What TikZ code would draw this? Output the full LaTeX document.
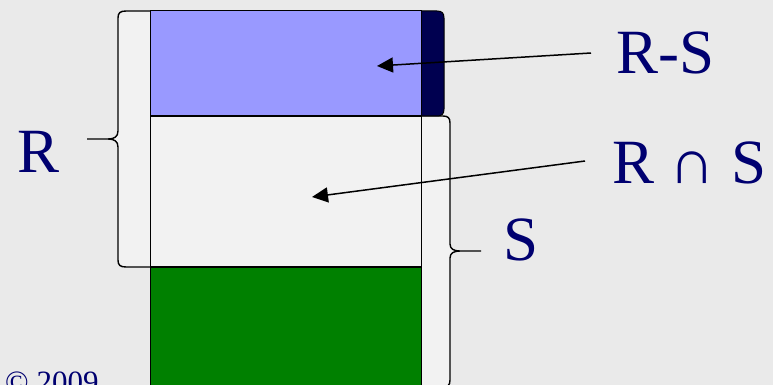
\documentclass[tikz,border=0pt]{standalone}
\usepackage{fontspec}
\setmainfont{Liberation Serif}
\newfontfamily\labelface{Liberation Serif}
\usetikzlibrary{arrows.meta}
\definecolor{bg}{HTML}{EAEAEA}
\definecolor{pale}{HTML}{F2F2F2}
\definecolor{lilac}{HTML}{9999FF}
\definecolor{deepnavy}{HTML}{000050}
\definecolor{inknavy}{HTML}{000070}
\definecolor{leaf}{HTML}{008000}
\begin{document}
\begin{tikzpicture}[x=1pt,y=-1pt,
  labeltext/.style={text=inknavy, font=\labelface\fontsize{63}{63}\selectfont, inner sep=0pt, anchor=base west},
  braceline/.style={draw=black, line width=1.4pt},
  pointer/.style={draw=black, line width=1.5pt, -{Triangle[length=16pt,width=15pt]}}]
\fill[bg] (0,0) rectangle (773,385);
\useasboundingbox (0,0) rectangle (773,385);

% brace for R, filled pale
\filldraw[fill=pale, braceline] (150,11) -- (126,11)
  .. controls (120,11) and (118,13) .. (118,18) -- (118,131)
  .. controls (118,137) and (114,139) .. (108,139) -- (87,139) -- (108,139)
  .. controls (114,139) and (118,141) .. (118,147) -- (118,260)
  .. controls (118,265) and (120,267) .. (126,267) -- (150,267);

% brace for S, filled pale
\filldraw[fill=pale, braceline] (421,116) -- (443,116)
  .. controls (448,116) and (450,118) .. (450,123) -- (450,244)
  .. controls (450,249) and (454,251) .. (460,251) -- (481,251) -- (460,251)
  .. controls (454,251) and (450,253) .. (450,258) -- (450,380)
  .. controls (450,385) and (448,387) .. (443,387) -- (421,387);

% dark strip beside R-S
\filldraw[fill=deepnavy, draw=black, line width=1pt] (421,11) -- (437,11)
  .. controls (442,11) and (444,13) .. (444,18) -- (444,109)
  .. controls (444,114) and (442,116) .. (437,116) -- (421,116) -- cycle;

% stacked regions
\draw[fill=lilac, line width=1pt] (150,11) rectangle (421,116);
\draw[fill=pale, line width=1pt] (150,116) rectangle (421,267);
\draw[fill=leaf, line width=1pt] (150,267) rectangle (421,392);
\draw[line width=2pt] (150,116) -- (421,116);
\draw[line width=2pt] (150,267) -- (421,267);

% labels
\node[labeltext] (lblR) at (17,172) {R};
\node[labeltext] (lblRS) at (616,74) {R-S};
\node[labeltext] (lblRiS) at (612,183) {R ∩ S};
\node[labeltext] (lblS) at (503,260) {S};
\node[text=inknavy, font=\labelface\fontsize{31}{31}\selectfont, inner sep=0pt, anchor=base west] (copy) at (5,392) {© 2009};

% pointers
\coordinate (rsTail) at (591,53);
\coordinate (rsTip) at (377,66);
\coordinate (risTail) at (585,161);
\coordinate (risTip) at (312,197);
\draw[pointer] (rsTail) -- (rsTip);
\draw[pointer] (risTail) -- (risTip);
\end{tikzpicture}
\end{document}
